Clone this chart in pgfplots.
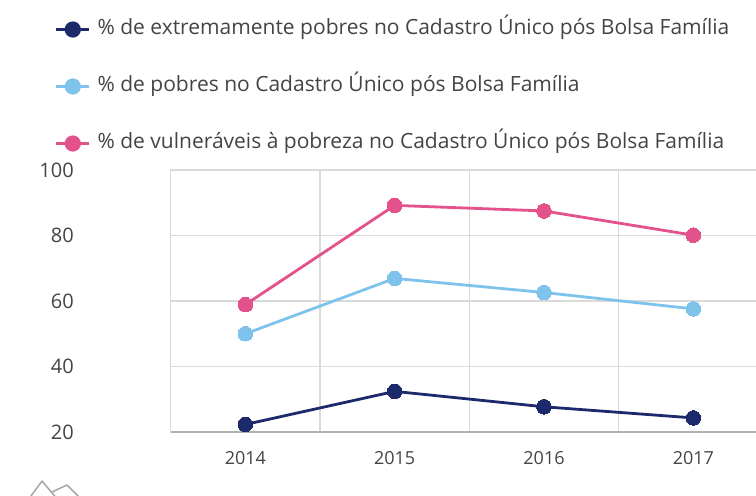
\documentclass[border=0pt]{standalone}
\usepackage{pgfplots}
\pgfplotsset{compat=1.18}
\usepackage{fontspec}
\setmainfont{Open Sans}
\definecolor{navy}{HTML}{1C2A6B}
\definecolor{lblue}{HTML}{7EC3EC}
\definecolor{pinkc}{HTML}{E3528B}
\definecolor{gridc}{HTML}{DADADA}
\definecolor{txt}{HTML}{444444}
\begin{document}
\begin{tikzpicture}
\useasboundingbox (0,0) rectangle (756bp,-496bp);
\clip (0,0) rectangle (756bp,-496bp);
\begin{axis}[
 at={(170.7bp,-432bp)}, anchor=south west, scale only axis,
 width=597.3bp, height=262bp,
 xmin=-0.5, xmax=3.5, ymin=20, ymax=100,
 clip=false,
 xtick={0,1,2,3}, xticklabels={2014,2015,2016,2017},
 minor xtick={-0.5,0.5,1.5,2.5,3.5},
 xminorgrids, ymajorgrids,
 ytick={20,40,60,80,100},
 major tick length=0pt, minor tick length=0pt,
 grid style={gridc, line width=1.2bp},
 minor grid style={gridc, line width=1.2bp},
 axis line style={gridc, line width=1.2bp},
 /pgf/number format/assume math mode=true,
 yticklabel style={font=\fontsize{20bp}{24bp}\selectfont, text=txt, anchor=east, inner sep=0pt, xshift=-96.7bp},
 xticklabel style={font=\fontsize{18bp}{22bp}\selectfont, text=txt, anchor=north, inner sep=0pt, yshift=-19.7bp},
 legend cell align=left,
 legend image code/.code={\draw[#1, line width=2.6bp] (0bp,0bp) -- (33bp,0bp); \fill[#1] (16.5bp,0bp) circle (6.7bp);},
 legend style={at={(axis description cs:-0.1937,1.5744)}, anchor=north west, draw=none, fill=none, inner sep=0pt, outer sep=0pt, row sep=37bp, column sep=7bp, font=\fontsize{21bp}{25bp}\selectfont, text=txt, nodes={inner sep=0pt, text height=15bp, text depth=5bp}},
]
\addplot[navy, line width=2.8bp, mark=*, mark size=7.3bp, mark options={fill=navy, draw=navy, line width=0pt}] coordinates {(0,22.3)(1,32.4)(2,27.7)(3,24.3)};
\addlegendentry{\% de extremamente pobres no Cadastro Único pós Bolsa Família}
\addplot[lblue, line width=2.8bp, mark=*, mark size=7.3bp, mark options={fill=lblue, draw=lblue, line width=0pt}] coordinates {(0,50.0)(1,66.9)(2,62.6)(3,57.6)};
\addlegendentry{\% de pobres no Cadastro Único pós Bolsa Família}
\addplot[pinkc, line width=2.8bp, mark=*, mark size=7.3bp, mark options={fill=pinkc, draw=pinkc, line width=0pt}] coordinates {(0,58.9)(1,89.2)(2,87.5)(3,80.1)};
\addlegendentry{\% de vulneráveis à pobreza no Cadastro Único pós Bolsa Família}
\draw[color=black!30, line width=1.3bp] (rel axis cs:0,0) -- (rel axis cs:1,0);
\end{axis}
\draw[black!35, line width=1.5bp, line join=round] (28bp,-500bp) -- (42bp,-481bp) -- (58bp,-500bp);
\draw[black!35, line width=1.5bp, line join=round] (52bp,-492bp) -- (67bp,-485bp) -- (82bp,-500bp);
\end{tikzpicture}
\end{document}
